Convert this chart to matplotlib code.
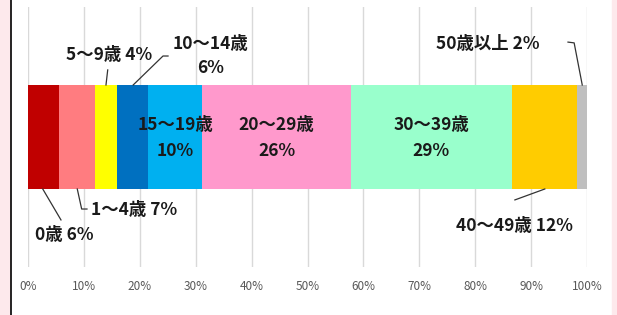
import numpy as np
import matplotlib
matplotlib.use("Agg")
import matplotlib.pyplot as plt
from matplotlib.patches import Rectangle
from matplotlib.lines import Line2D

plt.rcParams['font.family'] = ['Noto Sans CJK JP', 'DejaVu Sans']

# age groups and shares (%)
groups = ['0歳', '1～4歳', '5～9歳', '10～14歳', '15～19歳',
          '20～29歳', '30～39歳', '40～49歳', '50歳以上']
shares = [5.5, 6.5, 3.9, 5.6, 9.7, 26.5, 28.9, 11.7, 1.7]
pct_labels = ['6%', '7%', '4%', '6%', '10%', '26%', '29%', '12%', '2%']
colors = ['#c00000', '#ff7c80', '#ffff00', '#0070c0', '#00b0f0',
          '#ff99cc', '#99ffcc', '#ffcc00', '#bfbfbf']
ticks = np.arange(0, 101, 10)

fig = plt.figure(figsize=(6.17, 3.15), dpi=100)
# pink frame strips + black border line
fig.patches.append(Rectangle((0, 0), 10 / 617, 1, transform=fig.transFigure,
                             color='#fde9ec', zorder=0))
fig.patches.append(Rectangle((612 / 617, 0), 5 / 617, 1, transform=fig.transFigure,
                             color='#fde9ec', zorder=0))
fig.lines.append(Line2D([11 / 617, 11 / 617], [0, 1], transform=fig.transFigure,
                        color='black', lw=1.2))

ax = fig.add_axes([28 / 617, 48 / 315, 559 / 617, 260 / 315])
lefts = np.concatenate([[0], np.cumsum(shares)[:-1]])
ax.barh(0.5, shares, left=lefts, height=0.4, color=colors, zorder=2)

ax.set_xlim(0, 100)
ax.set_ylim(0, 1)
ax.set_xticks(ticks)
ax.set_xticklabels([f'{t}%' for t in ticks], color='#595959', fontsize=8.5)
ax.set_yticks([])
ax.tick_params(axis='x', length=0, pad=9)
ax.grid(axis='x', color='#d9d9d9', lw=1, zorder=0)
for s in ax.spines.values():
    s.set_visible(False)

tkw = dict(fontsize=12.5, fontweight='bold', color='#1a1a1a')
lkw = dict(color='#333333', lw=0.9)


def seg_x(i, frac=0.5):
    return lefts[i] + frac * shares[i]


# labels inside the wide segments
for i in (4, 5, 6):
    ax.text(seg_x(i), 0.495, f'{groups[i]}\n{pct_labels[i]}', ha='center',
            va='center', linespacing=1.55, zorder=3, **tkw)

# 0歳
ax.plot([seg_x(0, 0.48), 5.9], [0.3, 0.181], **lkw)
ax.text(1.2, 0.123, f'{groups[0]} {pct_labels[0]}', ha='left', va='center', **tkw)
# 1～4歳
ax.plot([seg_x(1, 0.51), 9.6, 10.55], [0.3, 0.223, 0.223], **lkw)
ax.text(11.3, 0.22, f'{groups[1]} {pct_labels[1]}', ha='left', va='center', **tkw)
# 5～9歳
ax.plot([seg_x(2), 14.26], [0.7, 0.758], **lkw)
ax.text(14.5, 0.815, f'{groups[2]} {pct_labels[2]}', ha='center', va='center', **tkw)
# 10～14歳
ax.plot([seg_x(3, 0.52), 24.15, 25.05], [0.7, 0.8115, 0.8115], **lkw)
ax.text(32.7, 0.812, f'{groups[3]}\n{pct_labels[3]}', ha='center', va='center',
        linespacing=1.4, **tkw)
# 40～49歳
ax.plot([seg_x(7), 87.1], [0.3, 0.258], **lkw)
ax.text(87.1, 0.158, f'{groups[7]} {pct_labels[7]}', ha='center', va='center', **tkw)
# 50歳以上
ax.plot([96.6, 97.7, seg_x(8)], [0.865, 0.862, 0.7], **lkw)
ax.text(82.3, 0.858, f'{groups[8]} {pct_labels[8]}', ha='center', va='center', **tkw)

fig.savefig('out.png', dpi=100)
